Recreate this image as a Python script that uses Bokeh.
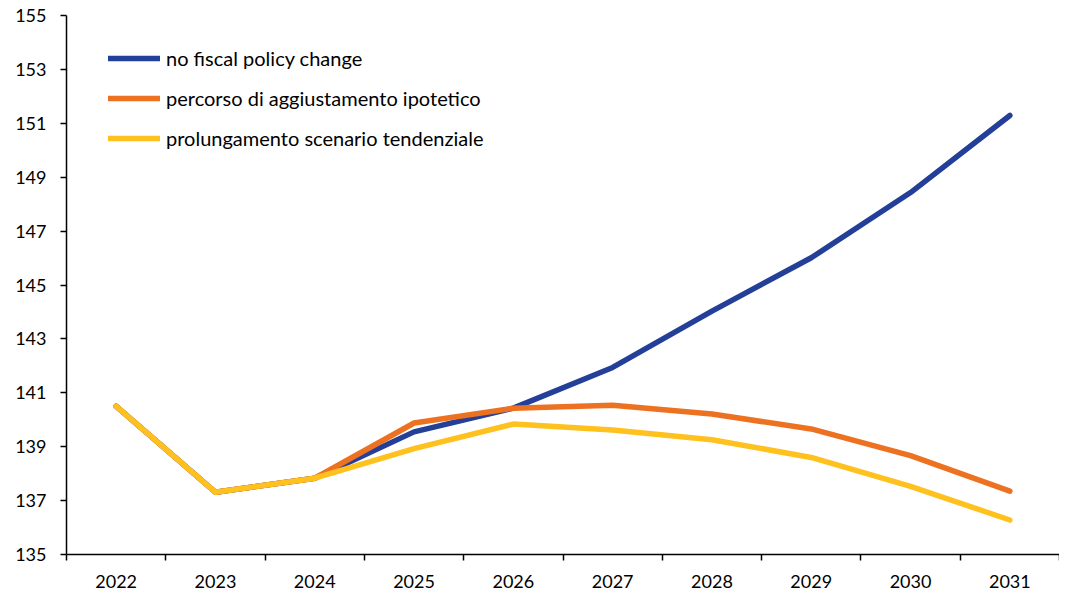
from bokeh.plotting import figure
from bokeh.models import FixedTicker, Range1d, Legend, LegendItem
from bokeh.embed import file_html
from bokeh.resources import INLINE

years = ["2022", "2023", "2024", "2025", "2026", "2027", "2028", "2029", "2030", "2031"]
no_policy = [140.5, 137.31, 137.83, 139.55, 140.43, 141.94, 144.03, 146.01, 148.43, 151.29]
aggiustamento = [140.5, 137.31, 137.83, 139.88, 140.43, 140.54, 140.21, 139.66, 138.67, 137.35]
tendenziale = [140.5, 137.31, 137.83, 138.93, 139.84, 139.62, 139.26, 138.6, 137.53, 136.28]
series_names = ["no fiscal policy change", "percorso di aggiustamento ipotetico",
                "prolungamento scenario tendenziale"]
colors = ["#233F98", "#EC7120", "#FFC11E"]
y_ticks = list(range(135, 156, 2))

FONT = "Lato"
xs = [i + 0.5 for i in range(len(years))]

p = figure(width=1059, height=590, output_backend="svg", toolbar_location=None,
           x_range=Range1d(0, len(years)), y_range=Range1d(135, 155),
           min_border_left=66, min_border_top=15, min_border_right=0, min_border_bottom=34)
p.outline_line_color = None
p.xgrid.visible = False
p.ygrid.visible = False
p.background_fill_color = "white"
p.border_fill_color = "white"

renderers = []
for vals, c in zip([no_policy, aggiustamento, tendenziale], colors):
    r = p.line(xs, vals, line_color=c, line_width=5.5, line_cap="round", line_join="round")
    renderers.append(r)

# x axis: labels at category centers, ticks at category boundaries
xa = p.xaxis[0]
xa.ticker = FixedTicker(ticks=xs, minor_ticks=list(range(len(years) + 1)))
xa.major_label_overrides = {x: y for x, y in zip(xs, years)}
xa.major_tick_out = 0
xa.major_tick_in = 0
xa.minor_tick_out = 6
xa.minor_tick_in = 0
xa.minor_tick_line_color = "black"
xa.minor_tick_line_width = 1.5
xa.axis_line_color = "black"
xa.axis_line_width = 1.5
xa.major_label_text_font = FONT
xa.major_label_text_font_size = "18px"
xa.major_label_text_color = "black"
xa.major_label_standoff = 14

ya = p.yaxis[0]
ya.ticker = FixedTicker(ticks=y_ticks)
ya.major_tick_out = 6
ya.major_tick_in = 0
ya.minor_tick_out = 0
ya.minor_tick_in = 0
ya.major_tick_line_color = "black"
ya.major_tick_line_width = 1.5
ya.axis_line_color = "black"
ya.axis_line_width = 1.5
ya.major_label_text_font = FONT
ya.major_label_text_font_size = "18px"
ya.major_label_text_color = "black"
ya.major_label_standoff = 14

legend = Legend(items=[LegendItem(label=n, renderers=[r]) for n, r in zip(series_names, renderers)],
                location=(42, 404), orientation="vertical",
                glyph_width=52, glyph_height=20, label_height=20, label_standoff=6,
                spacing=16, padding=0, margin=0,
                label_text_font=FONT, label_text_font_size="20px", label_text_color="black",
                border_line_color=None, background_fill_alpha=0)
p.add_layout(legend)

open("out.html", "w").write(file_html(p, INLINE))
